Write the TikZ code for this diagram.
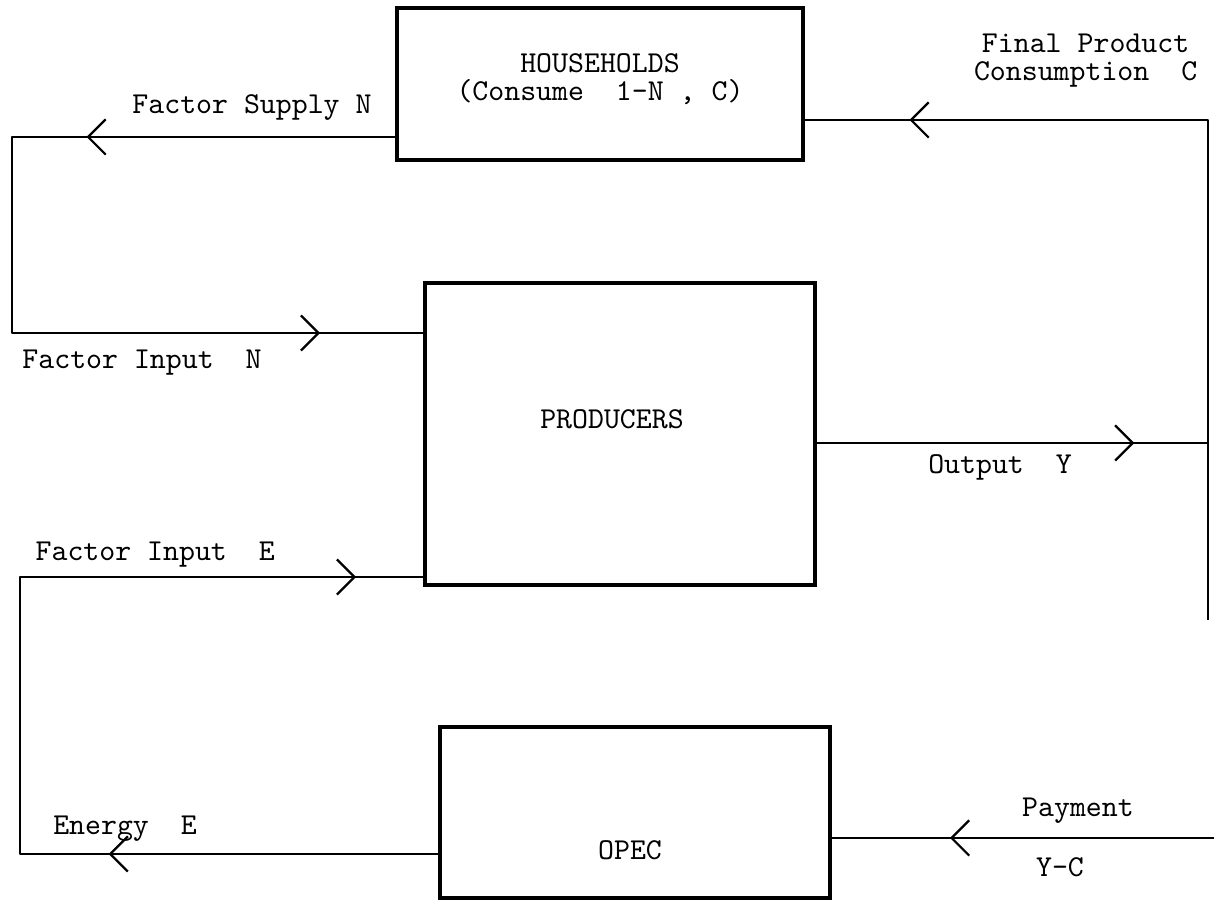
\documentclass[tikz,border=0pt]{standalone}
\usepackage{fontspec}
\usetikzlibrary{arrows.meta,decorations.markings}

\tikzset{
  box/.style={draw, line width=1.2pt, inner sep=0pt},
  flow/.style={line width=0.8pt, line join=round},
  arrowat/.style={postaction={decorate, decoration={markings,
      mark=at position #1 with {\arrow{Straight Barb[length=2.2mm, width=4.4mm]}}}}}
}

\begin{document}
\begin{tikzpicture}[font=\ttfamily\fontsize{10.8}{9.9}\selectfont]
        \useasboundingbox (0,0) rectangle (15.175,11.325);
        \def \boxw {4.875cm}

        \node[box, minimum width=5.075cm, minimum height=1.9cm] at (7.5,10.275) (hh) {};
        \node[box, minimum width=\boxw, minimum height=3.775cm] at (7.75,5.9) (prod) {};
        \node[box, minimum width=\boxw, minimum height=2.14cm] at (7.9375,1.169) (opec) {};

        \node[align=center] at (7.5,10.33) (hhtxt) {HOUSEHOLDS\\(Consume~~1-N , C)};
        \node at (7.65,6.09) (prodtxt) {PRODUCERS};
        \node at (7.875,0.7) (opectxt) {OPEC};

        % corners of the flows
        \coordinate (nTop) at (0.15,9.6125);
        \coordinate (nBot) at (0.15,7.1625);
        \coordinate (eTop) at (0.25,4.1125);
        \coordinate (eBot) at (0.25,0.65);
        \coordinate (cTop) at (15.1,9.825);
        \coordinate (cBot) at (15.1,3.575);
        \coordinate (yOut) at (15.1,5.7875);
        \coordinate (pay) at (15.175,0.85);

        \draw[flow, arrowat=3.86cm, arrowat=-1.29cm]
          (hh.west |- nTop) -- (nTop) -- (nBot) -- (prod.west |- nBot);
        \draw[flow, arrowat=4.12cm, arrowat=-0.84cm]
          (opec.west |- eBot) -- (eBot) -- (eTop) -- (prod.west |- eTop);
        \draw[flow, arrowat=3.97cm] (prod.east |- yOut) -- (yOut);
        \draw[flow, arrowat=-1.31cm] (cBot) -- (cTop) -- (hh.east |- cTop);
        \draw[flow, arrowat=3.3cm] (pay) -- (opec.east |- pay);

        \node at (3.15,9.975) (fsup) {Factor Supply N};
        \node at (1.775,6.79) (finN) {Factor Input~~N};
        \node at (1.94,4.39) (finE) {Factor Input~~E};
        \node at (1.5625,0.9625) (enE) {Energy~~E};
        \node at (12.5,5.4875) (outY) {Output~~Y};
        \node[align=center] at (13.57,10.57) (fprod) {Final Product\\Consumption~~C};
        \node at (13.475,1.19) (paym) {Payment};
        \node at (13.25,0.48) (ymc) {Y-C};
\end{tikzpicture}
\end{document}
